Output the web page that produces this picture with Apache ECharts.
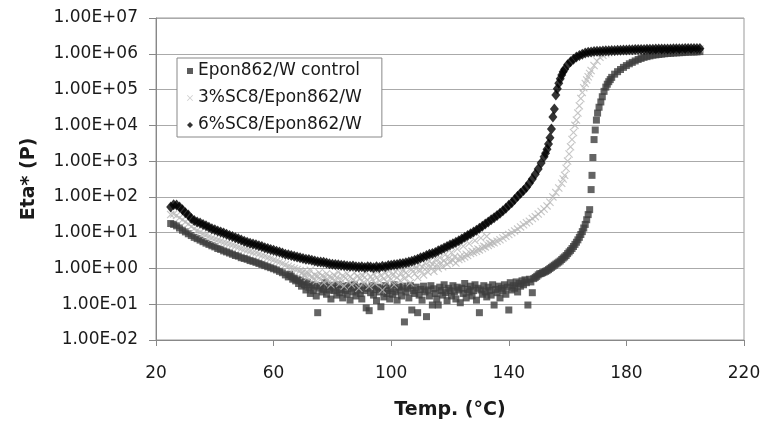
<!DOCTYPE html>
<html>
<head>
<meta charset="utf-8">
<script src="https://cdn.jsdelivr.net/npm/echarts@6/dist/echarts.min.js"></script>
<style>
html,body{margin:0;padding:0;background:#fff;}
#chart{width:764px;height:422px;}
</style>
</head>
<body>
<div id="chart"></div>
<script>
// Temperature (°C) vs complex viscosity Eta* (P)
const seriesNames = ['Epon862/W control', '3%SC8/Epon862/W', '6%SC8/Epon862/W'];
const xTicks = [20, 60, 100, 140, 180, 220];
const yTickLabels = ['1.00E-02','1.00E-01','1.00E+00','1.00E+01','1.00E+02','1.00E+03','1.00E+04','1.00E+05','1.00E+06','1.00E+07'];

const controlData = [[25,18],[26,17],[27,15.5],[28,13.5],[29,11.7],[30,10.5],[31,9.3],[32,8.3],[33,7.4],[34,6.8],[35,6.2],[36,5.6],[37,5.1],[38,4.7],[39,4.3],[40,4.0],[41,3.6],[42,3.4],[43,3.1],[44,2.9],[45,2.7],[46,2.5],[47,2.3],[48,2.2],[49,2.0],[50,1.9],[51,1.8],[52,1.66],[53,1.58],[54,1.48],[55,1.38],[56,1.29],[57,1.2],[58,1.12],[59,1.05],[60,0.98],[61,0.91],[62,0.83],[63,0.76],[64,0.66],[65,0.58],[65.5,0.69],[66,0.6],[66.5,0.5],[67,0.54],[67.5,0.45],[68,0.5],[68.5,0.38],[69,0.47],[69.5,0.32],[70,0.42],[70.5,0.35],[71,0.25],[71.5,0.4],[72,0.3],[72.5,0.2],[73,0.35],[73.5,0.24],[74,0.32],[74.5,0.17],[75,0.058],[75.5,0.28],[76,0.33],[76.5,0.22],[77,0.26],[77.5,0.4],[78,0.19],[78.5,0.3],[79,0.25],[79.5,0.14],[80,0.34],[80.5,0.24],[81,0.28],[81.5,0.18],[82,0.35],[82.5,0.21],[83,0.26],[83.5,0.15],[84,0.32],[84.5,0.24],[85,0.19],[85.5,0.33],[86,0.13],[86.5,0.28],[87,0.22],[87.5,0.35],[88,0.17],[88.5,0.25],[89,0.3],[89.5,0.2],[90,0.14],[90.5,0.32],[91,0.24],[91.5,0.079],[92,0.28],[92.5,0.066],[93,0.21],[93.5,0.33],[94,0.18],[94.5,0.26],[95,0.126],[95.5,0.3],[96,0.22],[96.5,0.085],[97,0.27],[97.5,0.16],[98,0.33],[98.5,0.2],[99,0.24],[99.5,0.14],[100,0.28],[100.5,0.19],[101,0.35],[101.5,0.22],[102,0.13],[102.5,0.3],[103,0.25],[103.5,0.17],[104,0.32],[104.5,0.032],[105,0.22],[105.5,0.28],[106,0.15],[106.5,0.33],[107,0.069],[107.5,0.24],[108,0.2],[108.5,0.3],[109,0.058],[109.5,0.18],[110,0.26],[110.5,0.13],[111,0.32],[111.5,0.22],[112,0.045],[112.5,0.25],[113,0.17],[113.5,0.33],[114,0.095],[114.5,0.27],[115,0.2],[115.5,0.14],[116,0.095],[116.5,0.3],[117,0.24],[117.5,0.18],[118,0.35],[118.5,0.21],[119,0.126],[119.5,0.28],[120,0.24],[120.5,0.17],[121,0.33],[121.5,0.22],[122,0.14],[122.5,0.3],[123,0.25],[123.5,0.11],[124,0.28],[124.5,0.2],[125,0.38],[125.5,0.15],[126,0.26],[126.5,0.22],[127,0.32],[127.5,0.17],[128,0.24],[128.5,0.35],[129,0.13],[129.5,0.28],[130,0.058],[130.5,0.25],[131,0.19],[131.5,0.33],[132,0.22],[132.5,0.16],[133,0.3],[133.5,0.24],[134,0.18],[134.5,0.35],[135,0.095],[135.5,0.26],[136,0.21],[136.5,0.32],[137,0.15],[137.5,0.28],[138,0.24],[138.5,0.35],[139,0.19],[139.5,0.3],[140,0.069],[140.5,0.4],[141,0.25],[141.5,0.33],[142,0.28],[142.5,0.42],[143,0.22],[143.5,0.38],[144,0.32],[144.5,0.45],[145,0.35],[145.5,0.48],[146,0.4],[146.5,0.095],[147,0.5],[147.5,0.42],[148,0.21],[148.5,0.52],[149,0.56],[149.5,0.6],[150,0.66],[150.5,0.71],[151,0.72],[151.5,0.76],[152,0.79],[152.5,0.83],[153,0.87],[153.5,0.93],[154,1.0],[154.5,1.07],[155,1.15],[155.5,1.23],[156,1.32],[156.5,1.41],[157,1.51],[157.5,1.62],[158,1.78],[158.5,1.95],[159,2.1],[159.5,2.3],[160,2.6],[160.5,2.9],[161,3.2],[161.5,3.6],[162,4.1],[162.5,4.7],[163,5.4],[163.5,6.3],[164,7.4],[164.5,8.9],[165,10.7],[165.5,13.5],[166,17],[166.5,23],[167,32],[167.5,44],[168,160],[168.3,400],[168.6,1260],[169,4000],[169.4,7400],[169.8,14000],[170.2,22000],[170.7,32000],[171.3,45000],[171.8,63000],[172.4,89000],[173,117000],[173.5,141000],[174,166000],[174.5,190000],[175,219000],[176,269000],[177,316000],[178,363000],[179,417000],[180,468000],[181,525000],[182,575000],[183,631000],[184,692000],[185,741000],[186,794000],[187,832000],[188,871000],[189,912000],[190,933000],[191,955000],[192,977000],[193,1000000],[194,1020000],[195,1030000],[196,1050000],[197,1060000],[198,1070000],[199,1080000],[200,1100000],[201,1110000],[202,1120000],[203,1120000],[204,1130000],[205,1150000]];

const sc3Data = [[25,32],[26,33],[27,30],[28,26],[29,23],[30,20],[31,17.4],[32,14.8],[33,12.9],[34,11.5],[35,10.2],[36,9.3],[37,8.5],[38,7.8],[39,7.1],[40,6.6],[41,6.2],[42,5.8],[43,5.4],[44,5.1],[45,4.8],[46,4.5],[47,4.2],[48,3.9],[49,3.6],[50,3.4],[51,3.2],[52,3.0],[53,2.8],[54,2.7],[55,2.5],[56,2.3],[57,2.2],[58,2.0],[59,1.9],[60,1.74],[61,1.62],[62,1.51],[63,1.38],[64,1.26],[65,1.15],[66,1.07],[67,1.0],[68,0.93],[69,0.87],[69.5,0.72],[70,0.81],[70.5,0.63],[71,0.76],[71.5,0.56],[72,0.71],[72.5,0.89],[73,0.6],[73.5,0.5],[74,0.66],[74.5,0.45],[75,0.6],[75.5,0.76],[76,0.5],[76.5,0.63],[77,0.4],[77.5,0.56],[78,0.71],[78.5,0.48],[79,0.6],[79.5,0.35],[80,0.52],[80.5,0.66],[81,0.45],[81.5,0.56],[82,0.79],[82.5,0.38],[83,0.5],[83.5,0.63],[84,0.32],[84.5,0.54],[85,0.71],[85.5,0.44],[86,0.58],[86.5,0.35],[87,0.5],[87.5,0.76],[88,0.42],[88.5,0.6],[89,0.28],[89.5,0.52],[90,0.66],[90.5,0.4],[91,0.56],[91.5,0.79],[92,0.47],[92.5,0.32],[93,0.6],[93.5,0.5],[94,0.71],[94.5,0.38],[95,0.55],[95.5,0.83],[96,0.45],[96.5,0.63],[97,0.25],[97.5,0.52],[98,0.76],[98.5,0.42],[99,0.6],[99.5,0.89],[100,0.5],[100.5,0.66],[101,0.35],[101.5,0.79],[102,0.56],[102.5,1.05],[103,0.45],[103.5,0.71],[104,0.89],[104.5,0.52],[105,0.76],[105.5,1.12],[106,0.63],[106.5,0.4],[107,0.95],[107.5,1.26],[108,0.71],[108.5,1.0],[109,0.56],[109.5,1.32],[110,0.89],[110.5,1.12],[111,0.66],[111.5,1.41],[112,1.05],[112.5,0.79],[113,1.58],[113.5,1.12],[114,1.32],[114.5,0.83],[115,1.78],[115.5,1.26],[116,1.0],[116.5,2.0],[117,1.41],[117.5,1.12],[118,1.66],[118.5,2.5],[119,1.32],[119.5,1.9],[120,1.51],[120.5,2.8],[121,1.66],[121.5,2.1],[122,1.41],[122.5,3.5],[123,1.78],[123.5,2.2],[124,1.9],[124.5,4.2],[125,2.1],[125.5,2.5],[126,2.3],[126.5,5.0],[127,2.6],[127.5,3.0],[128,2.8],[128.5,6.0],[129,3.0],[129.5,3.5],[130,3.3],[130.5,7.1],[131,3.6],[131.5,4.2],[132,4.0],[132.5,7.9],[133,4.4],[133.5,5.0],[134,4.8],[134.5,5.5],[135,5.2],[136,5.8],[137,6.3],[138,7.1],[139,7.9],[140,8.9],[141,10],[142,11.2],[143,12.6],[144,14.5],[145,16.6],[146,19],[147,21],[148,25],[149,28],[150,33],[151,39],[152,46],[153,56],[154,71],[155,100],[156,132],[157,178],[158,240],[158.5,316],[159,400],[159.5,630],[160,1000],[160.5,1580],[161,2500],[161.5,4000],[162,6300],[162.5,10000],[163,14000],[163.5,22000],[164,35000],[164.5,56000],[165,83000],[165.5,112000],[166,148000],[166.5,186000],[167,229000],[167.5,282000],[168,339000],[169,468000],[170,631000],[171,794000],[172,912000],[173,1000000],[174,1070000],[175,1120000],[176,1150000],[177,1170000],[178,1180000],[179,1190000],[180,1200000],[182,1220000],[184,1240000],[186,1260000],[188,1270000],[190,1290000],[192,1300000],[194,1310000],[196,1320000],[198,1320000],[200,1320000],[202,1330000],[204,1340000],[205,1350000]];

const sc6Data = [[25,52],[26,60],[27,59],[28,52],[29,44],[30,36],[31,31],[32,25],[33,22],[34,20],[35,18.6],[36,17],[37,15.5],[38,14.1],[39,12.9],[40,12],[41,11.2],[42,10.5],[43,9.8],[44,9.1],[45,8.3],[46,7.8],[47,7.2],[48,6.8],[49,6.2],[50,5.8],[51,5.4],[52,5.1],[53,4.8],[54,4.6],[55,4.3],[56,4.1],[57,3.8],[58,3.6],[59,3.4],[60,3.2],[61,3.0],[62,2.9],[63,2.7],[64,2.5],[65,2.4],[66,2.3],[67,2.2],[68,2.1],[69,2.0],[70,1.9],[71,1.82],[72,1.78],[73,1.7],[74,1.62],[75,1.55],[76,1.51],[77,1.48],[78,1.41],[79,1.35],[80,1.32],[81,1.29],[82,1.26],[83,1.23],[84,1.2],[85,1.17],[86,1.15],[87,1.17],[88,1.12],[89,1.1],[90,1.12],[91,1.07],[92,1.12],[93,1.1],[94,1.05],[95,1.12],[96,1.07],[97,1.15],[98,1.12],[99,1.2],[100,1.23],[101,1.26],[102,1.29],[103,1.35],[104,1.38],[105,1.45],[106,1.51],[107,1.58],[108,1.7],[109,1.82],[110,2.0],[111,2.1],[112,2.3],[113,2.5],[114,2.6],[115,2.8],[116,3.1],[117,3.4],[118,3.7],[119,4.1],[120,4.5],[121,4.9],[122,5.4],[123,5.9],[124,6.6],[125,7.4],[126,8.3],[127,9.3],[128,10.5],[129,11.7],[130,13.2],[131,15.1],[132,17.4],[133,20],[134,23],[135,26],[136,30],[137,35],[138,41],[139,48],[140,58],[141,69],[142,85],[143,105],[144,126],[145,151],[146,186],[147,240],[148,316],[149,427],[150,603],[151,891],[152,1320],[152.5,1660],[153,2140],[153.5,3020],[154,4470],[154.5,7940],[155,17000],[155.5,28800],[156,70800],[156.5,105000],[157,151000],[157.5,200000],[158,257000],[158.5,316000],[159,372000],[160,490000],[161,603000],[162,708000],[163,813000],[164,891000],[165,977000],[166,1050000],[167,1100000],[168,1120000],[169,1150000],[170,1170000],[171,1180000],[172,1200000],[173,1210000],[174,1220000],[175,1230000],[176,1240000],[177,1250000],[178,1260000],[179,1270000],[180,1280000],[181,1290000],[182,1300000],[183,1310000],[184,1320000],[185,1320000],[186,1320000],[187,1330000],[188,1340000],[189,1340000],[190,1350000],[191,1350000],[192,1350000],[193,1360000],[194,1360000],[195,1370000],[196,1380000],[197,1380000],[198,1380000],[199,1390000],[200,1400000],[201,1400000],[202,1410000],[203,1410000],[204,1410000],[205,1410000]];

const FONT = 'DejaVu Sans';
const crossPath = 'path://M0,1 L1,0 L5,4 L9,0 L10,1 L6,5 L10,9 L9,10 L5,6 L1,10 L0,9 L4,5 Z';

const chart = echarts.init(document.getElementById('chart'), null, {renderer: 'canvas'});
chart.setOption({
  backgroundColor: '#ffffff',
  animation: false,
  textStyle: {fontFamily: FONT},
  grid: {left: 156, right: 20, top: 18, bottom: 82, show: true, borderColor: '#999', borderWidth: 1, backgroundColor: 'transparent', containLabel: false, outerBoundsMode: 'none'},
  legend: {
    orient: 'vertical', left: 177, top: 58,
    backgroundColor: '#fff', borderColor: '#888', borderWidth: 1,
    padding: [4, 20, 3, 10],
    itemWidth: 6, itemHeight: 6, itemGap: 9,
    textStyle: {fontFamily: FONT, fontSize: 17, color: '#1a1a1a', lineHeight: 18},
    data: [
      {name: seriesNames[0], icon: 'rect', itemStyle: {color: '#333'}},
      {name: seriesNames[1], icon: crossPath, itemStyle: {color: '#c0c0c0'}},
      {name: seriesNames[2], icon: 'diamond', itemStyle: {color: '#000'}}
    ]
  },
  xAxis: {
    type: 'value', min: xTicks[0], max: xTicks[xTicks.length - 1], interval: 40,
    name: 'Temp. (°C)', nameLocation: 'middle', nameGap: 61,
    nameTextStyle: {fontFamily: FONT, fontSize: 19, fontWeight: 'bold', color: '#1a1a1a'},
    axisLine: {show: true, lineStyle: {color: '#888', width: 1}},
    axisTick: {show: true, inside: false, length: 6, lineStyle: {color: '#888'}},
    axisLabel: {fontFamily: FONT, fontSize: 17, color: '#1a1a1a', margin: 25},
    splitLine: {show: false}
  },
  yAxis: {
    type: 'log', logBase: 10, min: 0.01, max: 1e7,
    name: 'Eta* (P)', nameLocation: 'middle', nameGap: 117,
    nameTextStyle: {fontFamily: FONT, fontSize: 19, fontWeight: 'bold', color: '#1a1a1a'},
    axisLine: {show: true, lineStyle: {color: '#888', width: 1}},
    axisTick: {show: true, inside: false, length: 7, lineStyle: {color: '#888'}},
    axisLabel: {fontFamily: FONT, fontSize: 17, color: '#1a1a1a', margin: 18,
      formatter: function (v) { return yTickLabels[Math.round(Math.log10(v)) + 2]; }},
    splitLine: {show: true, lineStyle: {color: '#aaa', width: 1}},
    minorTick: {show: false}
  },
  series: [
    {name: seriesNames[0], type: 'scatter', data: controlData, symbol: 'rect', symbolSize: 7,
      itemStyle: {color: '#3d3d3d'}, large: false, z: 2},
    {name: seriesNames[1], type: 'scatter', data: sc3Data, symbol: crossPath, symbolSize: 8,
      itemStyle: {color: '#b8b8b8'}, large: false, z: 3},
    {name: seriesNames[2], type: 'scatter', data: sc6Data, symbol: 'diamond', symbolSize: [9, 11],
      itemStyle: {color: '#000'}, large: false, z: 4}
  ]
});
</script>
</body>
</html>
